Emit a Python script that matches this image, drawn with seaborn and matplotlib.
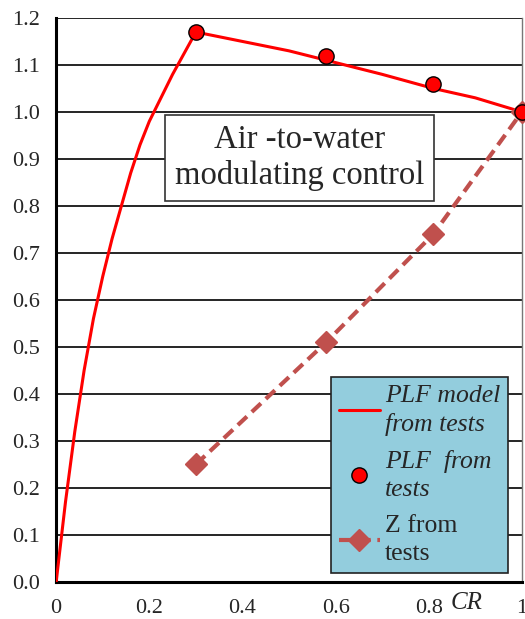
import numpy as np
import pandas as pd
import matplotlib
matplotlib.use("Agg")
import matplotlib.pyplot as plt
import seaborn as sns

# PLF model curve
cr_model = [0.0, 0.02, 0.04, 0.06, 0.08, 0.10, 0.12, 0.14, 0.16, 0.18, 0.20, 0.25, 0.30,
            0.40, 0.50, 0.58, 0.70, 0.81, 0.90, 1.0]
plf_model = [0.0, 0.17, 0.32, 0.45, 0.56, 0.65, 0.73, 0.80, 0.87, 0.93, 0.98, 1.08, 1.17,
             1.15, 1.13, 1.11, 1.08, 1.05, 1.03, 1.0]

# test points
cr_tests = [0.30, 0.58, 0.81, 1.0]
plf_tests = [1.17, 1.12, 1.06, 1.0]
z_tests = [0.25, 0.51, 0.74, 1.0]

y_ticks = np.round(np.arange(0, 1.21, 0.1), 1)
x_ticks = [0, 0.2, 0.4, 0.6, 0.8, 1]
x_labels = ["0", "0.2", "0.4", "0.6", "0.8", "1"]

sns.set_style("white")
plt.rcParams["font.family"] = ["Liberation Serif", "DejaVu Serif"]

df_model = pd.DataFrame({"CR": cr_model, "PLF": plf_model})
df_tests = pd.DataFrame({"CR": cr_tests, "PLF": plf_tests, "Z": z_tests})

fig = plt.figure(figsize=(5.25, 6.19), dpi=100)
ax = fig.add_axes([0.107, 0.060, 0.887, 0.911])

for y in y_ticks[1:]:
    ax.axhline(y, color="black", lw=1.2, zorder=0)

sns.lineplot(data=df_model, x="CR", y="PLF", ax=ax, color="#FF0000", lw=2.2,
             label="PLF model\nfrom tests", zorder=3)
ax.plot(df_tests["CR"], df_tests["PLF"], "o", ms=11, mfc="#FF0000", mec="black",
        mew=1, label="PLF  from\ntests", zorder=5, clip_on=False)
ax.plot(df_tests["CR"], df_tests["Z"], "--D", color="#C0504D", lw=3, ms=11,
        dashes=(3, 1.6), label="Z from\ntests", zorder=4, clip_on=False)

ax.set_xlim(0, 1)
ax.set_ylim(0, 1.2)
ax.set_yticks(y_ticks)
ax.set_yticklabels([f"{v:.1f}" for v in y_ticks], fontsize=16)
ax.set_xticks(x_ticks)
ax.set_xticklabels(x_labels, fontsize=16)
ax.tick_params(axis="both", direction="out", length=7, width=1.2, color="black", pad=5)
ax.set_xlabel("")
ax.set_ylabel("")
ax.text(0.882, -0.045, "CR", fontsize=18, style="italic", ha="center", va="center")

ax.spines["top"].set_visible(False)
ax.spines["right"].set_color("#777777")
ax.spines["right"].set_linewidth(1)
ax.spines["left"].set_linewidth(2.2)
ax.spines["bottom"].set_linewidth(2.2)
ax.spines["left"].set_color("black")
ax.spines["bottom"].set_color("black")

ax.text(0.523, 0.902, "Air -to-water\nmodulating control", fontsize=23.5, ha="center",
        va="center", linespacing=1.22, zorder=6,
        bbox=dict(boxstyle="square,pad=0.3", fc="white", ec="#333333", lw=1.2))

leg = ax.legend(loc="lower right", bbox_to_anchor=(0.970, 0.016), fontsize=18.5,
                frameon=True, fancybox=False, framealpha=1, borderpad=0.3,
                handlelength=1.6, handletextpad=0.2, labelspacing=0.55,
                borderaxespad=0)
leg.get_frame().set_facecolor("#93CDDD")
leg.get_frame().set_edgecolor("#222222")
leg.get_frame().set_linewidth(1.2)
for t in leg.get_texts()[:2]:
    t.set_fontstyle("italic")
for t in leg.get_texts():
    t.set_linespacing(1.35)

fig.savefig("out.png", dpi=100)
